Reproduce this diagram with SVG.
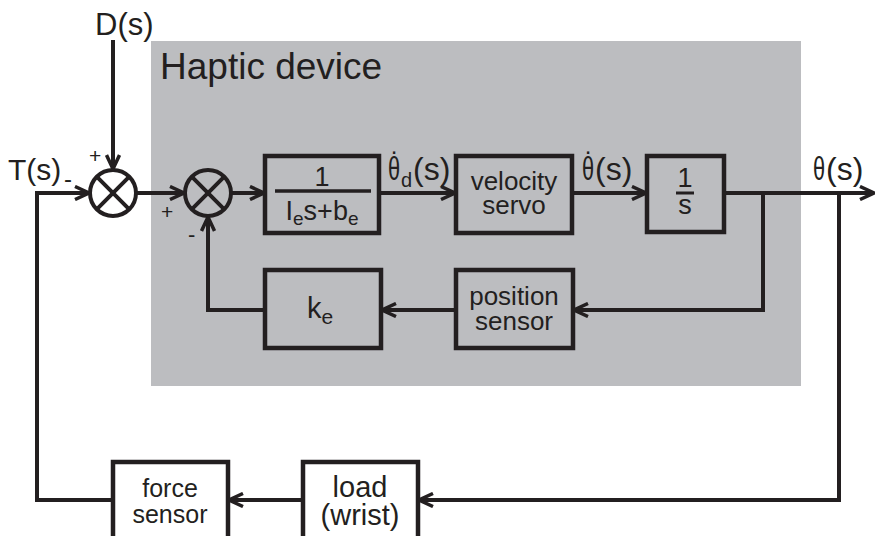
<svg xmlns="http://www.w3.org/2000/svg" width="876" height="536" viewBox="0 0 876 536">
<defs>
<style>
.ln{fill:none;stroke:#231f20;stroke-width:4;stroke-linecap:butt;stroke-linejoin:miter}
.bx{fill:none;stroke:#231f20;stroke-width:4.5}
.wb{fill:#ffffff;stroke:#231f20;stroke-width:4.5}
.t{font-family:"Liberation Sans",Arial,sans-serif;fill:#231f20}
.m{text-anchor:middle}
</style>
<marker id="ah" viewBox="0 0 16 16" refX="15" refY="8" markerWidth="16" markerHeight="16" markerUnits="userSpaceOnUse" orient="auto">
<path d="M1,1.5 L15,8 L1,14.5" fill="none" stroke="#231f20" stroke-width="3.5"/>
</marker>
</defs>
<rect x="0" y="0" width="876" height="536" fill="#ffffff"/>
<g id="haptic-device">
<rect x="151" y="41" width="650" height="345" fill="#bcbdc0"/>
<text class="t" x="160" y="79" font-size="37">Haptic device</text>
</g>
<g id="connectors">
<line class="ln" x1="113" y1="40" x2="113" y2="169" marker-end="url(#ah)"/>
<polyline class="ln" points="113,500 37,500 37,193 89,193" marker-end="url(#ah)"/>
<line class="ln" x1="136" y1="193" x2="184" y2="193" marker-end="url(#ah)"/>
<line class="ln" x1="231" y1="193" x2="264" y2="193" marker-end="url(#ah)"/>
<line class="ln" x1="379" y1="193" x2="455" y2="193" marker-end="url(#ah)"/>
<line class="ln" x1="572" y1="193" x2="646" y2="193" marker-end="url(#ah)"/>
<line class="ln" x1="724" y1="193" x2="874" y2="193" marker-end="url(#ah)"/>
<polyline class="ln" points="763,193 763,310 574,310" marker-end="url(#ah)"/>
<line class="ln" x1="456" y1="310" x2="382" y2="310" marker-end="url(#ah)"/>
<polyline class="ln" points="265,310 208,310 208,217" marker-end="url(#ah)"/>
<polyline class="ln" points="839,193 839,500 419,500" marker-end="url(#ah)"/>
<line class="ln" x1="303" y1="500" x2="229" y2="500" marker-end="url(#ah)"/>
</g>
<g id="sum1">
<circle cx="113" cy="193" r="23" fill="#ffffff" stroke="#231f20" stroke-width="4"/>
<path class="ln" d="M96.7,176.7 L129.3,209.3 M129.3,176.7 L96.7,209.3"/>
<text class="t" x="89" y="163" font-size="21">+</text>
</g>
<g id="sum2">
<circle cx="208" cy="193" r="23" fill="none" stroke="#231f20" stroke-width="4"/>
<path class="ln" d="M191.7,176.7 L224.3,209.3 M224.3,176.7 L191.7,209.3"/>
<text class="t" x="161" y="219" font-size="21">+</text>
<text class="t" x="188" y="242" font-size="22">-</text>
</g>
<g id="labels">
<text class="t" x="95" y="35" font-size="31">D(s)</text>
<text class="t" x="8" y="180" font-size="30">T(s)</text>
<text class="t" x="64" y="187" font-size="24">-</text>
<text class="t" font-size="33" transform="translate(388,180) scale(0.66,1)">θ</text>
<text class="t" x="390.7" y="154" font-size="24">.</text>
<text class="t" x="401" y="187" font-size="20">d</text>
<text class="t" x="413" y="180" font-size="32">(s)</text>
<text class="t" font-size="33" transform="translate(582,180) scale(0.66,1)">θ</text>
<text class="t" x="584.7" y="154" font-size="24">.</text>
<text class="t" x="595" y="180" font-size="32">(s)</text>
<text class="t" font-size="33" transform="translate(813,180) scale(0.66,1)">θ</text>
<text class="t" x="826" y="180" font-size="32">(s)</text>
</g>
<g id="block-plant">
<rect class="bx" x="265" y="156" width="114" height="77"/>
<text class="t m" x="322" y="186" font-size="27">1</text>
<line x1="275" y1="191" x2="371" y2="191" stroke="#231f20" stroke-width="3.5"/>
<text class="t m" x="322" y="220" font-size="27">I<tspan font-size="19" dy="5">e</tspan><tspan dy="-5">s+b</tspan><tspan font-size="19" dy="5">e</tspan></text>
</g>
<g id="velocity-servo">
<rect class="bx" x="456" y="156" width="116" height="77"/>
<text class="t m" x="514" y="190" font-size="26">velocity</text>
<text class="t m" x="514" y="214" font-size="26">servo</text>
</g>
<g id="integrator">
<rect class="bx" x="647" y="156" width="77" height="76"/>
<text class="t m" x="685" y="187" font-size="27">1</text>
<line x1="676" y1="193" x2="694" y2="193" stroke="#231f20" stroke-width="3"/>
<text class="t m" x="685" y="214" font-size="27">s</text>
</g>
<g id="ke">
<rect class="bx" x="265" y="270" width="116" height="78"/>
<text class="t" x="307" y="318" font-size="29">k<tspan font-size="21" dy="6">e</tspan></text>
</g>
<g id="position-sensor">
<rect class="bx" x="456" y="270" width="117" height="78"/>
<text class="t m" x="514" y="305" font-size="26">position</text>
<text class="t m" x="514" y="330" font-size="26">sensor</text>
</g>
<g id="force-sensor">
<rect class="wb" x="113" y="462" width="115" height="80"/>
<text class="t m" x="170" y="497" font-size="25">force</text>
<text class="t m" x="170" y="523" font-size="25">sensor</text>
</g>
<g id="load">
<rect class="wb" x="303" y="462" width="115" height="80"/>
<text class="t m" x="360" y="497" font-size="29">load</text>
<text class="t m" x="360" y="525" font-size="29">(wrist)</text>
</g>
</svg>
